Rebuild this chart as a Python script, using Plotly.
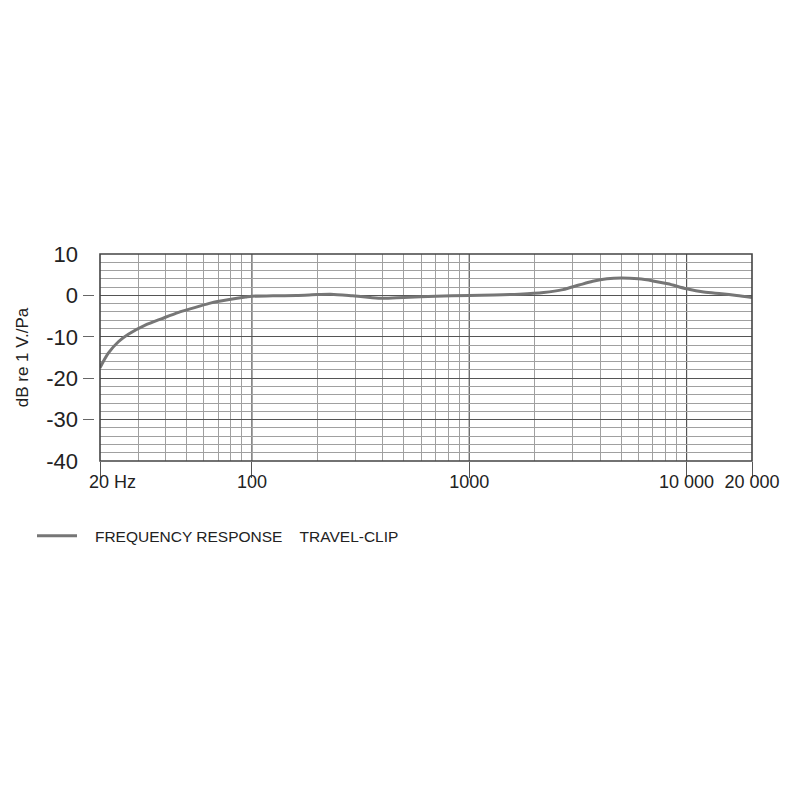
import plotly.graph_objects as go

freq = [20, 21.8, 24.3, 27, 32.3, 38.6, 46, 55, 65, 78.8, 93.6, 100, 125, 160, 200, 230, 290, 350, 400, 500, 700,
        1000, 1300, 1700, 2200, 2700, 3200, 3700, 4300, 5000, 6000, 7000, 8200, 10000, 12000, 14500, 17000, 20000]
resp = [-17.5, -14.0, -11.2, -9.4, -7.2, -5.6, -4.1, -2.9, -1.8, -1.0, -0.4, -0.2, -0.1, 0.0, 0.2, 0.3, -0.1, -0.5, -0.7, -0.5, -0.2,
        0.0, 0.1, 0.3, 0.7, 1.4, 2.5, 3.4, 4.0, 4.2, 4.0, 3.5, 2.8, 1.6, 0.8, 0.4, 0.0, -0.5]

x_tickvals = [20, 100, 1000, 10000, 20000]
x_ticktext = ["\u00a0" * 5 + "20 Hz", "100", "1000", "10 000", "20 000"]
x_major_grid = [100, 1000, 10000]
x_minor_grid = [m * d for d in (10, 100, 1000, 10000) for m in range(2, 10) if 20 <= m * d <= 20000]
y_tickvals = [10, 0, -10, -20, -30, -40]
y_ticktext = ["10", "0", "-10", "-20", "-30", "-40"]
series_name = "\u00a0\u00a0\u00a0FREQUENCY RESPONSE\u00a0\u00a0\u00a0\u00a0TRAVEL-CLIP"

fig = go.Figure()
fig.add_trace(go.Scatter(x=freq, y=resp, mode="lines", name=series_name,
                         line=dict(color="#767676", width=3, shape="spline", smoothing=0.8),
                         showlegend=True))

# page has an 8px body margin, so figure coords = page coords - 8
L, R, T, B = 74, 56, 246, 347
plot_w = 800 - L - R
x_dom0 = 18 / plot_w

fig.update_layout(
    width=800, height=800,
    paper_bgcolor="white", plot_bgcolor="white",
    margin=dict(l=L, r=R, t=T, b=B, autoexpand=False),
    font=dict(family="Arial, Liberation Sans, sans-serif", color="#222"),
    showlegend=True,
    legend=dict(orientation="h", x=(24 - L) / plot_w, y=-0.363, xanchor="left", yanchor="middle",
                font=dict(size=15.5, color="#222"), itemwidth=40, bgcolor="rgba(0,0,0,0)"),
    xaxis=dict(
        type="log", range=[1.30103, 4.30103], domain=[x_dom0, 1],
        tickvals=x_tickvals, ticktext=x_ticktext,
        ticks="outside", ticklen=16, tickcolor="#555", tickwidth=1,
        ticklabelstandoff=-12,
        tickfont=dict(size=18, color="#222"),
        showgrid=False, showline=False, zeroline=False,
        minor=dict(tickvals=x_minor_grid, showgrid=True, gridcolor="#a0a0a0", gridwidth=1, ticks=""),
    ),
    yaxis=dict(
        range=[-40, 10], anchor="free", position=0,
        tickvals=y_tickvals, ticktext=y_ticktext,
        ticks="inside", ticklen=11, tickcolor="#666", tickwidth=1,
        ticklabelstandoff=4,
        tickfont=dict(size=22, color="#222"),
        showgrid=True, gridcolor="#555", gridwidth=1,
        showline=False, zeroline=False,
        minor=dict(dtick=2, showgrid=True, gridcolor="#a0a0a0", gridwidth=1, ticks=""),
        title=dict(text="dB re 1 V./Pa", font=dict(size=17, color="#222"), standoff=12),
    ),
)

for xv in x_major_grid:
    fig.add_vline(x=xv, line=dict(color="#555", width=1.2), layer="below")

fig.add_shape(type="rect", xref="x domain", yref="y domain", x0=0, x1=1, y0=0, y1=1,
              line=dict(color="#444", width=1.6), layer="above")

fig.write_html("out.html")
